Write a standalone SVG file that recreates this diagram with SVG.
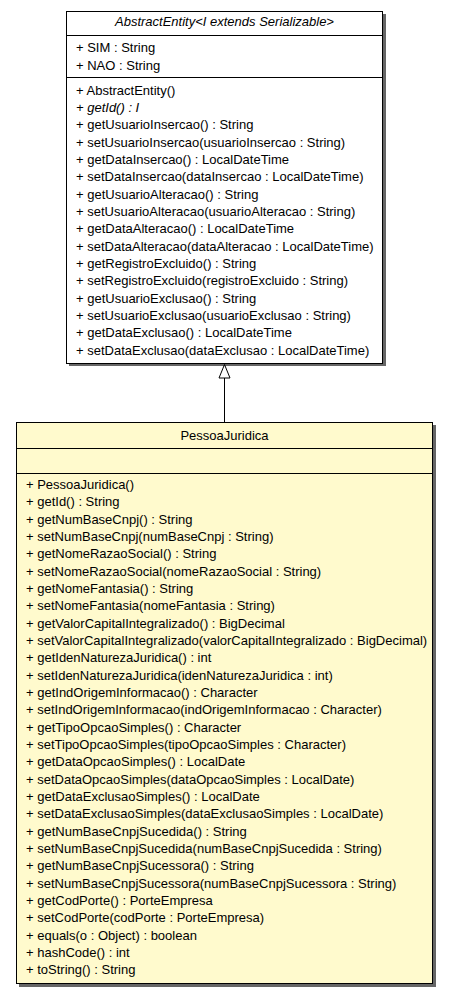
<svg xmlns="http://www.w3.org/2000/svg" width="449" height="995" viewBox="0 0 449 995">
<style>
text{font-family:"Liberation Sans",Arial,sans-serif;font-size:13px;fill:#000}
.c{text-anchor:middle}
.i{font-style:italic}
.box{stroke:#000;stroke-width:1}
.shadow{fill:#666}
.div{stroke:#000;stroke-width:1}
.edge{stroke:#000;stroke-width:1;fill:none}
</style>
<rect width="449" height="995" fill="#fff"/>
<g id="AbstractEntity">
<rect class="shadow" x="69" y="14" width="317" height="352"/>
<rect class="box" x="66.5" y="11.5" width="316" height="352" fill="#fff"/>
<line class="div" x1="66.5" y1="35.5" x2="382.5" y2="35.5"/>
<line class="div" x1="66.5" y1="77.5" x2="382.5" y2="77.5"/>
<text class="c i" x="224.5" y="26">AbstractEntity&lt;I extends Serializable&gt;</text>
<text x="76" y="52">+ SIM : String</text>
<text x="76" y="69.5">+ NAO : String</text>
<text x="76" y="94.5">+ AbstractEntity()</text>
<text class="i" x="76" y="111.8">+ getId() : I</text>
<text x="76" y="129.2">+ getUsuarioInsercao() : String</text>
<text x="76" y="146.5">+ setUsuarioInsercao(usuarioInsercao : String)</text>
<text x="76" y="163.8">+ getDataInsercao() : LocalDateTime</text>
<text x="76" y="181.2">+ setDataInsercao(dataInsercao : LocalDateTime)</text>
<text x="76" y="198.5">+ getUsuarioAlteracao() : String</text>
<text x="76" y="215.8">+ setUsuarioAlteracao(usuarioAlteracao : String)</text>
<text x="76" y="233.1">+ getDataAlteracao() : LocalDateTime</text>
<text x="76" y="250.5">+ setDataAlteracao(dataAlteracao : LocalDateTime)</text>
<text x="76" y="267.8">+ getRegistroExcluido() : String</text>
<text x="76" y="285.1">+ setRegistroExcluido(registroExcluido : String)</text>
<text x="76" y="302.5">+ getUsuarioExclusao() : String</text>
<text x="76" y="319.8">+ setUsuarioExclusao(usuarioExclusao : String)</text>
<text x="76" y="337.1">+ getDataExclusao() : LocalDateTime</text>
<text x="76" y="354.5">+ setDataExclusao(dataExclusao : LocalDateTime)</text>
</g>
<g id="PessoaJuridica">
<rect class="shadow" x="19" y="425" width="417" height="562"/>
<rect class="box" x="16.5" y="422.5" width="416" height="561" fill="#fffacd"/>
<line class="div" x1="16.5" y1="448.5" x2="432.5" y2="448.5"/>
<line class="div" x1="16.5" y1="473.5" x2="432.5" y2="473.5"/>
<text class="c" x="224.5" y="440">PessoaJuridica</text>
<text x="26" y="489">+ PessoaJuridica()</text>
<text x="26" y="506.3">+ getId() : String</text>
<text x="26" y="523.7">+ getNumBaseCnpj() : String</text>
<text x="26" y="541">+ setNumBaseCnpj(numBaseCnpj : String)</text>
<text x="26" y="558.3">+ getNomeRazaoSocial() : String</text>
<text x="26" y="575.7">+ setNomeRazaoSocial(nomeRazaoSocial : String)</text>
<text x="26" y="593">+ getNomeFantasia() : String</text>
<text x="26" y="610.3">+ setNomeFantasia(nomeFantasia : String)</text>
<text x="26" y="627.6">+ getValorCapitalIntegralizado() : BigDecimal</text>
<text x="26" y="645">+ setValorCapitalIntegralizado(valorCapitalIntegralizado : BigDecimal)</text>
<text x="26" y="662.3">+ getIdenNaturezaJuridica() : int</text>
<text x="26" y="679.6">+ setIdenNaturezaJuridica(idenNaturezaJuridica : int)</text>
<text x="26" y="697">+ getIndOrigemInformacao() : Character</text>
<text x="26" y="714.3">+ setIndOrigemInformacao(indOrigemInformacao : Character)</text>
<text x="26" y="731.6">+ getTipoOpcaoSimples() : Character</text>
<text x="26" y="749">+ setTipoOpcaoSimples(tipoOpcaoSimples : Character)</text>
<text x="26" y="766.3">+ getDataOpcaoSimples() : LocalDate</text>
<text x="26" y="783.6">+ setDataOpcaoSimples(dataOpcaoSimples : LocalDate)</text>
<text x="26" y="800.9">+ getDataExclusaoSimples() : LocalDate</text>
<text x="26" y="818.3">+ setDataExclusaoSimples(dataExclusaoSimples : LocalDate)</text>
<text x="26" y="835.6">+ getNumBaseCnpjSucedida() : String</text>
<text x="26" y="852.9">+ setNumBaseCnpjSucedida(numBaseCnpjSucedida : String)</text>
<text x="26" y="870.3">+ getNumBaseCnpjSucessora() : String</text>
<text x="26" y="887.6">+ setNumBaseCnpjSucessora(numBaseCnpjSucessora : String)</text>
<text x="26" y="904.9">+ getCodPorte() : PorteEmpresa</text>
<text x="26" y="922.3">+ setCodPorte(codPorte : PorteEmpresa)</text>
<text x="26" y="939.6">+ equals(o : Object) : boolean</text>
<text x="26" y="956.9">+ hashCode() : int</text>
<text x="26" y="974.2">+ toString() : String</text>
</g>
<g id="connectors">
<line class="edge" x1="224.5" y1="378" x2="224.5" y2="422"/>
<polygon class="edge" points="224.5,364.5 219,378 230,378" fill="#fff"/>
</g>
</svg>
